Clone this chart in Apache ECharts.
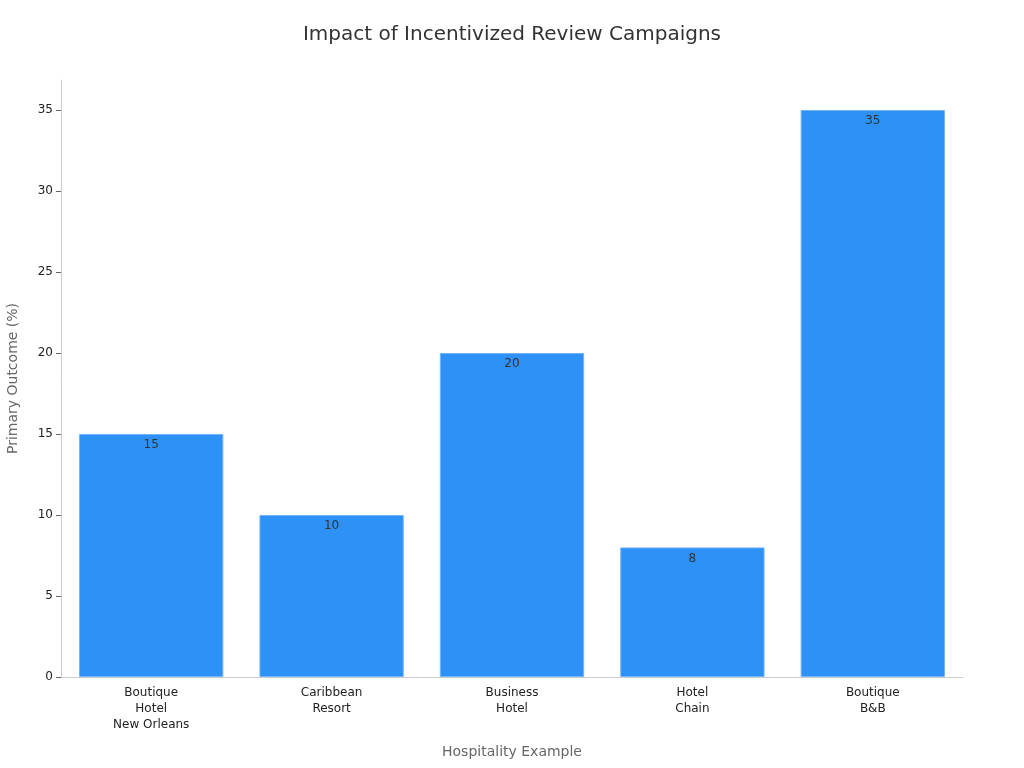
<!DOCTYPE html>
<html>
<head>
<meta charset="utf-8">
<script src="https://cdn.jsdelivr.net/npm/echarts@6/dist/echarts.min.js"></script>
<style>
  html, body { margin: 0; padding: 0; background: #fff; }
  #main { width: 1024px; height: 768px; }
</style>
</head>
<body>
<div id="main"></div>
<script>
// 数据
var categories = ['Boutique\nHotel\nNew Orleans', 'Caribbean\nResort', 'Business\nHotel', 'Hotel\nChain', 'Boutique\nB&B']
var outcomes = [15, 10, 20, 8, 35]

var chart = echarts.init(document.getElementById('main'))
var options = {
  animation: false,
  textStyle: { fontFamily: 'DejaVu Sans' },
  title: {
    text: 'Impact of Incentivized Review Campaigns',
    left: 'center',
    top: 20,
    textStyle: { fontSize: 20, fontWeight: 'normal', color: '#333' }
  },
  grid: { left: 61, right: 61, top: 80, bottom: 91, containLabel: false, outerBoundsMode: 'none' },
  xAxis: {
    type: 'category',
    data: categories,
    name: 'Hospitality Example',
    nameLocation: 'middle',
    nameGap: 68,
    nameTextStyle: { fontSize: 14, color: '#666' },
    axisLine: { lineStyle: { color: '#ccc' } },
    axisTick: { alignWithLabel: true, lineStyle: { color: '#666' } },
    axisLabel: { color: '#222', fontSize: 12, lineHeight: 16, interval: 0, align: 'center' }
  },
  yAxis: {
    type: 'value',
    min: 0,
    max: 36.85,
    interval: 5,
    name: 'Primary Outcome (%)',
    nameLocation: 'middle',
    nameGap: 41,
    nameTextStyle: { fontSize: 14, color: '#666' },
    axisLine: { show: true, lineStyle: { color: '#ccc' } },
    axisTick: { show: true, lineStyle: { color: '#666' } },
    axisLabel: { color: '#222', fontSize: 12, showMaxLabel: false },
    splitLine: { show: false }
  },
  series: [{
    type: 'bar',
    data: outcomes,
    barCategoryGap: '20%',
    itemStyle: { color: '#2E91F7', borderColor: '#73B3F7', borderWidth: 1 },
    label: { show: true, position: 'insideTop', color: '#333', fontSize: 12 }
  }]
}
chart.setOption(options)
</script>
</body>
</html>
